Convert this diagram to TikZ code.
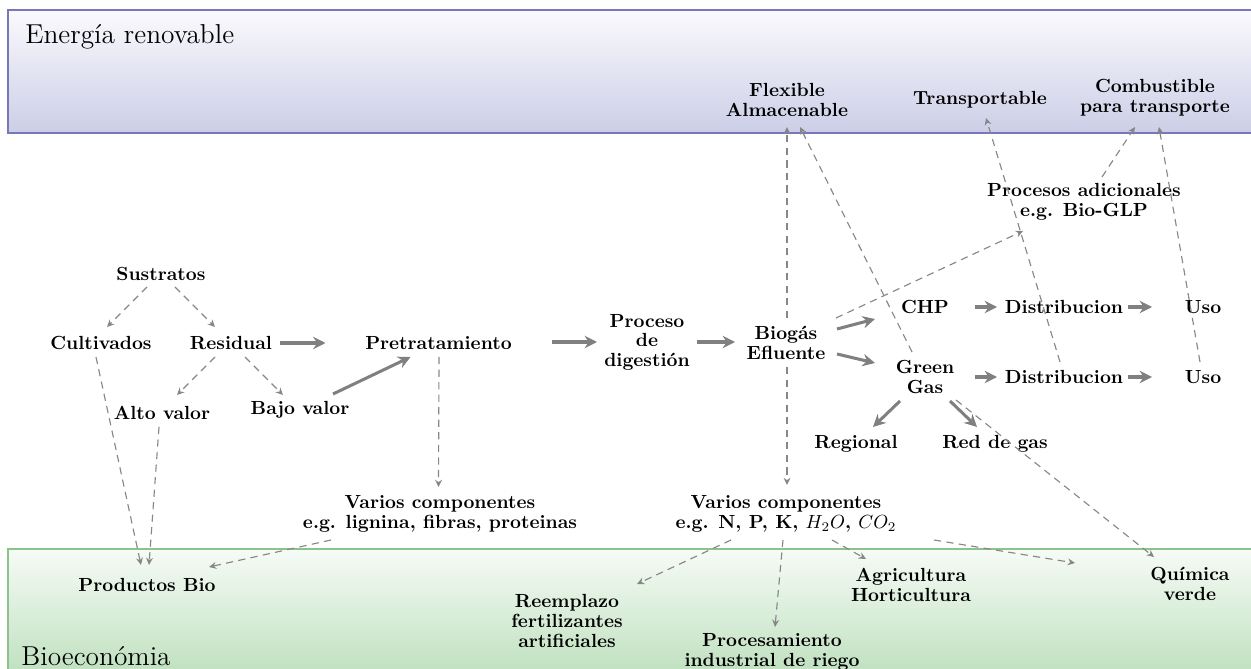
\documentclass[tikz,border=0pt]{standalone}
\usepackage{fontspec}
\usetikzlibrary{arrows.meta,calc}
\definecolor{arrgray}{RGB}{128,128,128}
\definecolor{dgray}{RGB}{135,135,135}
\definecolor{topA}{RGB}{250,250,253}
\definecolor{topB}{RGB}{204,206,231}
\definecolor{topE}{RGB}{120,120,185}
\definecolor{botA}{RGB}{246,251,246}
\definecolor{botB}{RGB}{180,219,180}
\definecolor{botE}{RGB}{140,195,140}
\begin{document}
\begin{tikzpicture}[x=0.5263pt,y=-0.5263pt,
  lbl/.style={font=\bfseries\fontsize{10}{10.3}\selectfont,align=center,inner sep=0pt},
  ttl/.style={font=\Large,inner sep=0pt,anchor=base west},
  flow/.style={draw=arrgray,line width=1.6pt,-{Stealth[length=6.5pt,width=6.5pt]}},
  dflow/.style={draw=dgray,line width=0.6pt,dash pattern=on 3.8pt off 2.8pt,-{Stealth[length=3.8pt,width=3.6pt]}}]
\useasboundingbox (0,0) rectangle (1251,669);
\shade[top color=topA,bottom color=topB,draw=topE,line width=0.6pt] (8,10) rectangle (1270,133);
\shade[top color=botA,bottom color=botB,draw=botE,line width=0.6pt] (8,549) rectangle (1270,700);
\node[ttl] (ttop) at (25,44) {Energía renovable};
\node[ttl] (tbot) at (21,665) {Bioeconómia};
% nodes
\node[lbl] (sus) at (161,274) {Sustratos};
\node[lbl] (cul) at (101,343) {Cultivados};
\node[lbl] (res) at (231,343) {Residual};
\node[lbl] (alto) at (162,413) {Alto valor};
\node[lbl] (bajo) at (300,410) {Bajo valor};
\node[lbl] (pre) at (438.5,343) {Pretratamiento};
\node[lbl] (proc) at (647,342) {Proceso\\de\\digestión};
\node[lbl] (bio) at (786,343) {Biogás\\Efluente};
\node[lbl] (chp) at (925,307) {CHP};
\node[lbl] (dis1) at (1064,307) {Distribucion};
\node[lbl] (uso1) at (1203,307) {Uso};
\node[lbl] (gg) at (925,377) {Green\\Gas};
\node[lbl] (dis2) at (1064,377) {Distribucion};
\node[lbl] (uso2) at (1203,377) {Uso};
\node[lbl] (reg) at (856,444) {Regional};
\node[lbl] (red) at (995,444) {Red de gas};
\node[lbl] (padd) at (1084,202) {Procesos adicionales\\e.g. Bio-GLP};
\node[lbl] (flex) at (787,100) {Flexible\\Almacenable};
\node[lbl] (trans) at (980,100) {Transportable};
\node[lbl] (comb) at (1155,98) {Combustible\\para transporte};
\node[lbl] (var1) at (440,514) {Varios componentes\\e.g. lignina, fibras, proteinas};
\node[lbl] (var2) at (786,514) {Varios componentes\\e.g. N, P, K, $H_2O$, $CO_2$};
\node[lbl] (pbio) at (147,585) {Productos Bio};
\node[lbl] (reem) at (567,621) {Reemplazo\\fertilizantes\\artificiales};
\node[lbl] (procind) at (772,652) {Procesamiento\\industrial de riego};
\node[lbl] (agri) at (911,585) {Agricultura\\Horticultura};
\node[lbl] (quim) at (1190,584) {Química\\verde};
% dashed connectors
\draw[dflow] ($(sus)+(-14,13)$) -- ($(cul)+(6,-16)$);
\draw[dflow] ($(sus)+(14,13)$) -- ($(res)+(-16,-16)$);
\draw[dflow] ($(res)+(-16,14)$) -- ($(alto)+(15,-18)$);
\draw[dflow] ($(res)+(14,14)$) -- ($(bajo)+(-17,-15)$);
\draw[dflow] ($(cul)+(-5,14)$) -- ($(pbio)+(-6,-20)$);
\draw[dflow] ($(alto)+(-3,14)$) -- ($(pbio)+(2,-20)$);
\draw[dflow] ($(pre)+(0.5,14)$) -- ($(var1)+(-1.5,-27)$);
\draw[dflow] ($(var1)+(-109,26)$) -- ($(pbio)+(62,-18)$);
\draw[dflow] ($(bio)+(1,-25)$) -- ($(flex)+(0,27)$);
\draw[dflow] ($(bio)+(1,24)$) -- ($(var2)+(1,-29)$);
\draw[dflow] ($(gg)+(-13,-25)$) -- ($(flex)+(13,27)$);
\draw[dflow] ($(bio)+(50,-25)$) -- ($(padd)+(-61,29)$);
\draw[dflow] ($(padd)+(18,-25)$) -- ($(comb)+(-20,29)$);
\draw[dflow] ($(dis2)+(-4,-15)$) -- ($(trans)+(6,18)$);
\draw[dflow] ($(uso2)+(-3,-15)$) -- ($(comb)+(4,29)$);
\draw[dflow] ($(gg)+(31,23)$) -- ($(quim)+(-36,-27)$);
\draw[dflow] ($(var2)+(-55,26)$) -- ($(reem)+(70,-37)$);
\draw[dflow] ($(var2)+(-3,26)$) -- ($(procind)+(3,-25)$);
\draw[dflow] ($(var2)+(46,26)$) -- ($(agri)+(-45,-26)$);
\draw[dflow] ($(var2)+(148,26)$) -- ($(quim)+(-115,-21)$);
% solid connectors
\draw[flow] ($(res)+(49,0)$) -- ($(pre)+(-113,0)$);
\draw[flow] ($(bajo)+(33,-16)$) -- ($(pre)+(-28,14)$);
\draw[flow] ($(pre)+(113,-1)$) -- ($(proc)+(-50,0)$);
\draw[flow] ($(proc)+(50,0)$) -- ($(bio)+(-51,-1)$);
\draw[flow] ($(bio)+(51,-14)$) -- ($(chp)+(-50,12)$);
\draw[flow] ($(bio)+(51,11)$) -- ($(gg)+(-50,-14)$);
\draw[flow] ($(chp)+(50,0)$) -- ($(dis1)+(-67,0)$);
\draw[flow] ($(dis1)+(64,0)$) -- ($(uso1)+(-51,0)$);
\draw[flow] ($(gg)+(50,0)$) -- ($(dis2)+(-67,0)$);
\draw[flow] ($(dis2)+(64,0)$) -- ($(uso2)+(-51,0)$);
\draw[flow] ($(gg)+(-25,24)$) -- ($(reg)+(17,-17)$);
\draw[flow] ($(gg)+(25,24)$) -- ($(red)+(-18,-17)$);
\end{tikzpicture}
\end{document}
